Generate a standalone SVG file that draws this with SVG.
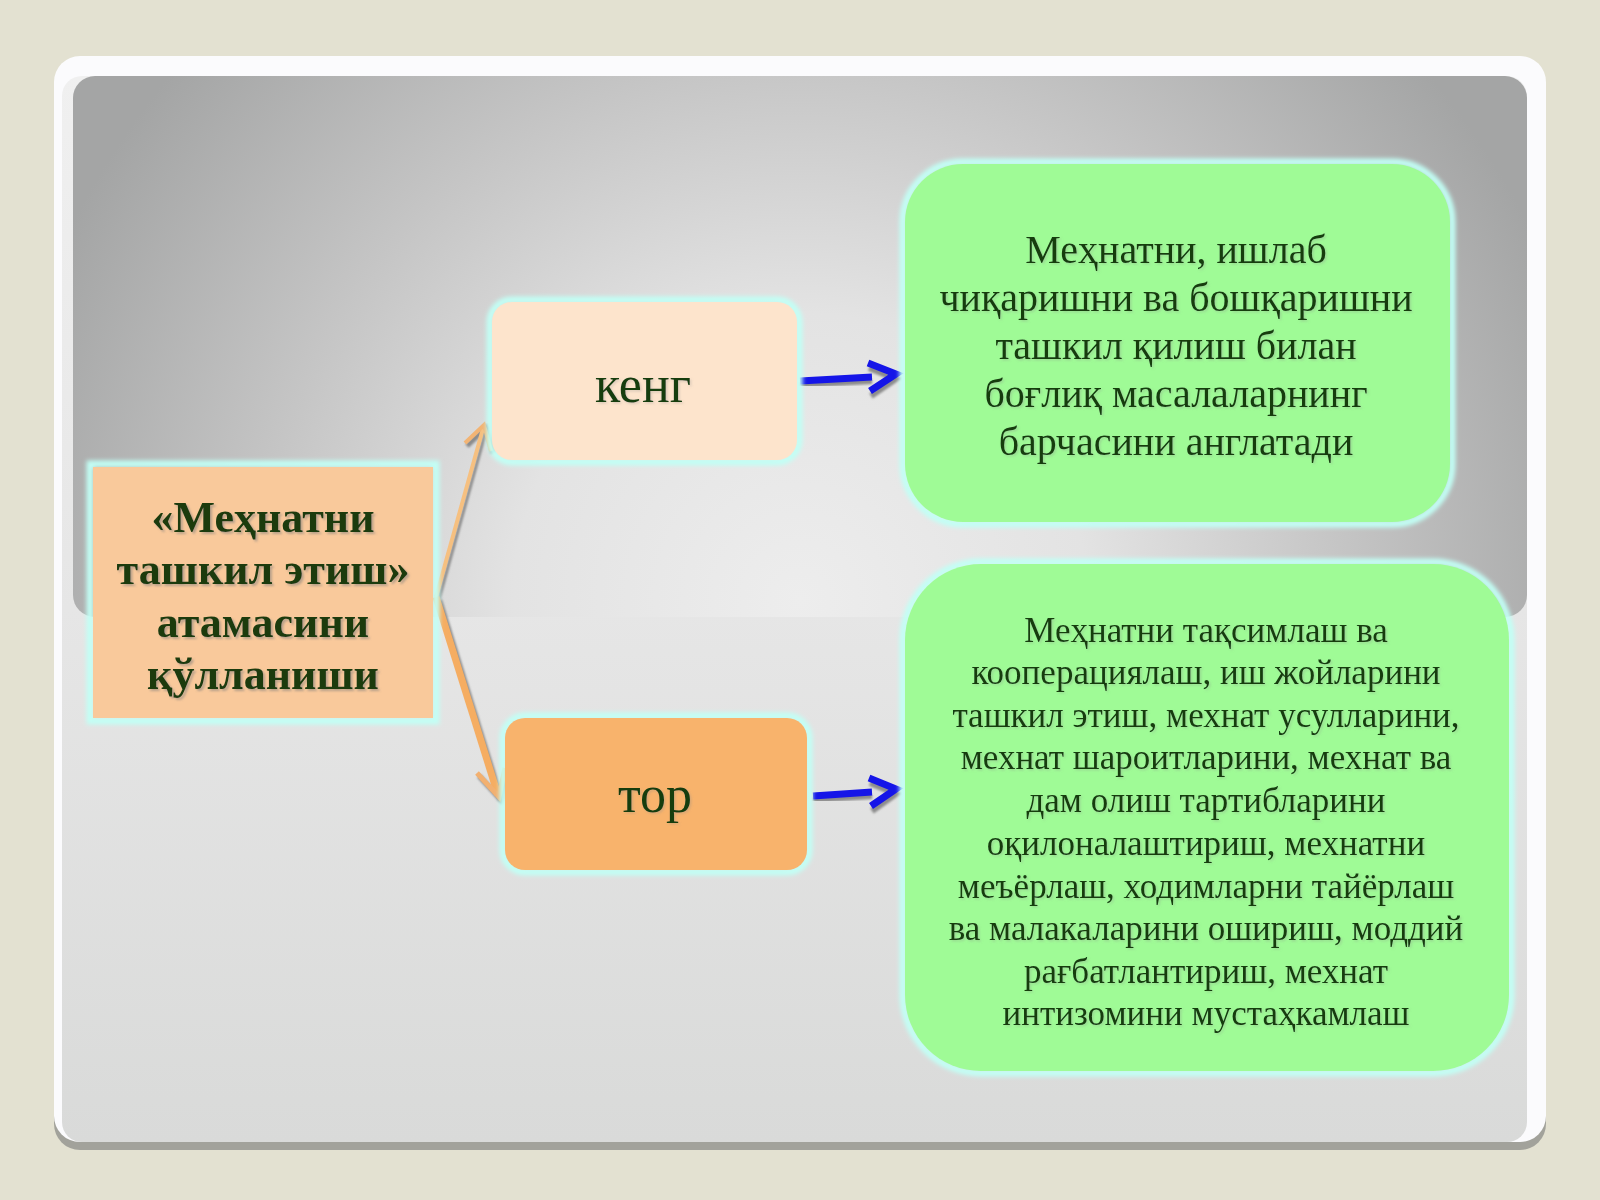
<svg xmlns="http://www.w3.org/2000/svg" width="1600" height="1200" viewBox="0 0 1600 1200">
  <defs>
    <linearGradient id="lowerGrad" x1="0" y1="0" x2="0" y2="1">
      <stop offset="0" stop-color="#f0f0f0"/>
      <stop offset="0.5" stop-color="#e6e6e6"/>
      <stop offset="1" stop-color="#d9dad9"/>
    </linearGradient>
    <radialGradient id="panelGrad" gradientUnits="userSpaceOnUse" cx="800" cy="600" r="820">
      <stop offset="0" stop-color="#ededed"/>
      <stop offset="0.35" stop-color="#e3e3e3"/>
      <stop offset="0.65" stop-color="#c6c6c6"/>
      <stop offset="1" stop-color="#a4a5a5"/>
    </radialGradient>
    <filter id="glow" x="-10%" y="-10%" width="120%" height="120%">
      <feGaussianBlur stdDeviation="2"/>
    </filter>
    <filter id="tshadow" x="-10%" y="-20%" width="120%" height="140%">
      <feDropShadow dx="2" dy="2" stdDeviation="1" flood-color="#777" flood-opacity="0.5"/>
    </filter>
    <filter id="tshadowLight" x="-10%" y="-20%" width="120%" height="140%">
      <feDropShadow dx="1.5" dy="1.5" stdDeviation="1" flood-color="#888" flood-opacity="0.3"/>
    </filter>
    <filter id="soft" x="-20%" y="-20%" width="140%" height="140%">
      <feGaussianBlur stdDeviation="0.8"/>
    </filter>
  </defs>
  <style>
    .glowbox { fill: none; stroke: #c2fff5; stroke-width: 7; filter: url(#glow); }
    .txt { font-family: "Liberation Serif", "Times New Roman", serif; fill: #123d10; text-anchor: middle; }
    .bold { font-weight: bold; font-size: 44px; fill: #1a3a0c; }
    .big { font-size: 52px; }
    .g1 { font-size: 40px; }
    .g2 { font-size: 35px; }
    .blue { fill: none; stroke: #1515e8; stroke-width: 7; stroke-linejoin: miter; stroke-linecap: butt; }
    .blueShadow { fill: none; stroke: #8c8c8c; stroke-width: 6; stroke-linejoin: miter; filter: url(#soft); }
    .orangeShadow { fill: none; stroke: #8a8a8a; stroke-linejoin: miter; filter: url(#soft); }
  </style>

  <!-- background -->
  <rect x="0" y="0" width="1600" height="1200" fill="#e3e1d1"/>
  <rect x="54" y="62" width="1492" height="1088" rx="26" fill="#a2a29b"/>
  <rect x="54" y="56" width="1492" height="1086" rx="26" fill="#fbfbfd"/>
  <rect x="62" y="76" width="1465" height="1066" rx="20" fill="url(#lowerGrad)"/>
  <rect x="73" y="76" width="1454" height="541" rx="22" fill="url(#panelGrad)"/>

  <!-- connectors -->
  <g id="connectors">
    <!-- orange to кенг -->
    <polyline class="orangeShadow" stroke-width="3" points="439,599 487,427"/>
    <polyline class="orangeShadow" stroke-width="5" points="467,446 486,428 493,453"/>
    <polyline fill="none" stroke="#f6c080" stroke-width="4" points="436,597 484,425"/>
    <polyline fill="none" stroke="#f2b474" stroke-width="4" stroke-linejoin="miter" points="465,443 484,425 491,451"/>
    <!-- orange to тор -->
    <polyline class="orangeShadow" stroke-width="6" points="439,600 501,800"/>
    <polyline class="orangeShadow" stroke-width="5" points="479,776 501,800 507,771"/>
    <polyline fill="none" stroke="#f5ad62" stroke-width="7" points="436,597 498,795"/>
    <polyline fill="none" stroke="#f2b070" stroke-width="5" stroke-linejoin="miter" points="477,773 499,797 505,768"/>
    <!-- blue to green 1 -->
    <polyline class="blueShadow" points="800,385 872,381"/>
    <polyline class="blueShadow" points="869,368 896,379 871,396"/>
    <polyline class="blue" points="800,381 872,377"/>
    <polyline class="blue" points="868,363 896,374 870,391"/>
    <!-- blue to green 2 -->
    <polyline class="blueShadow" points="813,800 872,796"/>
    <polyline class="blueShadow" points="870,783 896,794 872,811"/>
    <polyline class="blue" points="813,796 872,792"/>
    <polyline class="blue" points="869,778 896,789 871,806"/>
  </g>

  <!-- main node -->
  <g id="node-main">
    <rect class="glowbox" x="90" y="464" width="346" height="257"/>
    <rect x="93" y="467" width="340" height="251" fill="#f9c99b"/>
    <g filter="url(#tshadow)">
      <text class="txt bold" x="263" y="532">«Меҳнатни</text>
      <text class="txt bold" x="263" y="584">ташкил этиш»</text>
      <text class="txt bold" x="263" y="637">атамасини</text>
      <text class="txt bold" x="263" y="689">қўлланиши</text>
    </g>
  </g>

  <!-- кенг -->
  <g id="node-keng">
    <rect class="glowbox" x="490" y="300" width="309" height="162" rx="22"/>
    <rect x="492" y="302" width="305" height="158" rx="20" fill="#fde4cc"/>
    <text class="txt big" x="643" y="402" filter="url(#tshadowLight)">кенг</text>
  </g>

  <!-- тор -->
  <g id="node-tor">
    <rect class="glowbox" x="503" y="716" width="306" height="156" rx="22"/>
    <rect x="505" y="718" width="302" height="152" rx="20" fill="#f8b36c"/>
    <text class="txt big" x="655" y="812" filter="url(#tshadowLight)">тор</text>
  </g>

  <!-- green 1 -->
  <g id="node-wide-def">
    <rect class="glowbox" x="903" y="162" width="549" height="362" rx="60"/>
    <rect x="905" y="164" width="545" height="358" rx="58" fill="#9ffb96"/>
    <g filter="url(#tshadowLight)">
      <text class="txt g1" x="1176" y="263">Меҳнатни, ишлаб</text>
      <text class="txt g1" x="1176" y="311">чиқаришни ва бошқаришни</text>
      <text class="txt g1" x="1176" y="359">ташкил қилиш билан</text>
      <text class="txt g1" x="1176" y="407">боғлиқ масалаларнинг</text>
      <text class="txt g1" x="1176" y="455">барчасини англатади</text>
    </g>
  </g>

  <!-- green 2 -->
  <g id="node-narrow-def">
    <rect class="glowbox" x="903" y="562" width="608" height="511" rx="78"/>
    <rect x="905" y="564" width="604" height="507" rx="76" fill="#9ffb96"/>
    <g filter="url(#tshadowLight)">
      <text class="txt g2" x="1206" y="642">Меҳнатни тақсимлаш ва</text>
      <text class="txt g2" x="1206" y="684">кооперациялаш, иш жойларини</text>
      <text class="txt g2" x="1206" y="727">ташкил этиш, мехнат усулларини,</text>
      <text class="txt g2" x="1206" y="769">мехнат шароитларини, мехнат ва</text>
      <text class="txt g2" x="1206" y="812">дам олиш тартибларини</text>
      <text class="txt g2" x="1206" y="855">оқилоналаштириш, мехнатни</text>
      <text class="txt g2" x="1206" y="898">меъёрлаш, ходимларни тайёрлаш</text>
      <text class="txt g2" x="1206" y="940">ва малакаларини ошириш, моддий</text>
      <text class="txt g2" x="1206" y="983">рағбатлантириш, мехнат</text>
      <text class="txt g2" x="1206" y="1025">интизомини мустаҳкамлаш</text>
    </g>
  </g>
</svg>
